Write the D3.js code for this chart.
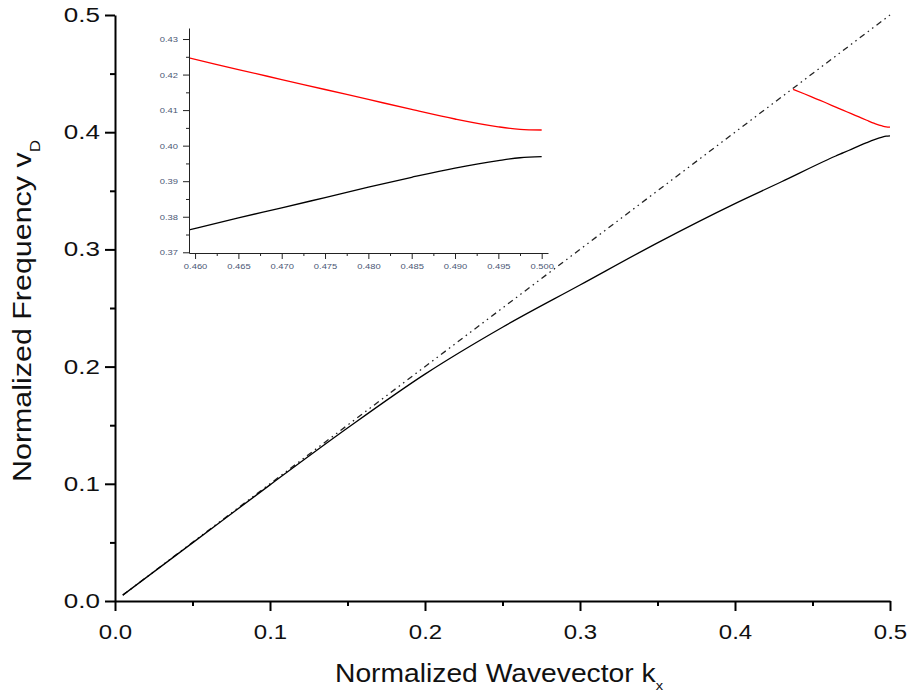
<!DOCTYPE html>
<html lang="en">
<head>
  <meta charset="UTF-8">
  <title>Normalized dispersion</title>
  <style>
    body  { margin: 0; background: #fff; font-family: "Liberation Sans", Arial, sans-serif; }
    svg   { display: block; }
    .axis path, .axis line { stroke: #000; }
    .main-axis path { stroke-width: 2px; }
    .main-axis line { stroke-width: 2px; }
    .main-axis text { font-size: 20px; fill: #111; }
    .inset-axis path, .inset-axis line { stroke: #222; stroke-width: 1px; }
    .inset-axis text { font-size: 8px; fill: #4b5775; }
    .curve { fill: none; stroke-width: 1.3px; }
  </style>
</head>
<body>
  <svg id="chart" width="911" height="696"></svg>

  <script src="https://d3js.org/d3.v7.min.js"></script>
  <script>
    /* ---------- data ---------- */
    const lowerK = [0.005, 0.05, 0.1, 0.15, 0.2, 0.25, 0.3, 0.35, 0.4, 0.43, 0.4593, 0.465, 0.47, 0.475, 0.48, 0.485, 0.49, 0.495, 0.4975, 0.5];
    const lowerV = [0.005, 0.0496, 0.0991, 0.1476, 0.1936, 0.2336, 0.2696, 0.3056, 0.3391, 0.3577, 0.3763, 0.3797, 0.3825, 0.3854, 0.3883, 0.3911, 0.3937, 0.3958, 0.3966, 0.3969];

    const upperK = [0.4375, 0.445, 0.452, 0.4593, 0.465, 0.47, 0.475, 0.48, 0.485, 0.49, 0.495, 0.4975, 0.5];
    const upperV = [0.4366, 0.4326, 0.4287, 0.4247, 0.4214, 0.4186, 0.4158, 0.4130, 0.4102, 0.4075, 0.4053, 0.4046, 0.4044];

    const lightK = [0.005, 0.5];
    const lightV = [0.005, 0.5];

    const mainTicks      = [0, 0.1, 0.2, 0.3, 0.4, 0.5];
    const mainMinorTicks = [0.05, 0.15, 0.25, 0.35, 0.45];
    const insetXTicks    = [0.460, 0.465, 0.470, 0.475, 0.480, 0.485, 0.490, 0.495, 0.500];
    const insetXMinor    = [0.4625, 0.4675, 0.4725, 0.4775, 0.4825, 0.4875, 0.4925, 0.4975];
    const insetYTicks    = [0.37, 0.38, 0.39, 0.40, 0.41, 0.42, 0.43];
    const insetYMinor    = [0.375, 0.385, 0.395, 0.405, 0.415, 0.425];

    const zip = (k, v) => k.map((d, i) => ({ k: d, v: v[i] }));
    const lower = zip(lowerK, lowerV),
          upper = zip(upperK, upperV),
          light = zip(lightK, lightV);

    const svg = d3.select('#chart');

    // stretch text a bit horizontally, the original glyphs are wider than Arial
    function stretch(sel, f) {
      sel.each(function () {
        const len = this.getComputedTextLength();
        d3.select(this).attr('textLength', len * f).attr('lengthAdjust', 'spacingAndGlyphs');
      });
    }

    /* ---------- main plot ---------- */
    const x = d3.scaleLinear().domain([0, 0.5]).range([115, 890]);
    const y = d3.scaleLinear().domain([0, 0.5]).range([601, 15]);

    const gx = svg.append('g').attr('class', 'axis main-axis')
        .attr('transform', `translate(0,${y(0)})`)
        .call(d3.axisBottom(x).tickValues(mainTicks).tickSize(10).tickSizeOuter(0)
              .tickPadding(14).tickFormat(d3.format('.1f')));
    svg.append('g').attr('class', 'axis main-axis')
        .attr('transform', `translate(0,${y(0)})`)
        .call(d3.axisBottom(x).tickValues(mainMinorTicks).tickSize(5).tickFormat(''))
        .select('.domain').remove();

    const gy = svg.append('g').attr('class', 'axis main-axis')
        .attr('transform', `translate(${x(0)},0)`)
        .call(d3.axisLeft(y).tickValues(mainTicks).tickSize(10).tickSizeOuter(0)
              .tickPadding(5).tickFormat(d3.format('.1f')));
    svg.append('g').attr('class', 'axis main-axis')
        .attr('transform', `translate(${x(0)},0)`)
        .call(d3.axisLeft(y).tickValues(mainMinorTicks).tickSize(5).tickFormat(''))
        .select('.domain').remove();

    stretch(gx.selectAll('text'), 1.2);
    stretch(gy.selectAll('text'), 1.3);

    const line = d3.line().x(d => x(d.k)).y(d => y(d.v)).curve(d3.curveMonotoneX);

    svg.append('path').datum(light)
        .attr('class', 'curve')
        .attr('stroke', '#222').attr('stroke-width', 1)
        .attr('stroke-dasharray', '6,4,1.5,4,1.5,4')
        .attr('d', d3.line().x(d => x(d.k)).y(d => y(d.v)));
    svg.append('path').datum(lower).attr('class', 'curve').attr('stroke', '#000').attr('d', line);
    svg.append('path').datum(upper).attr('class', 'curve').attr('stroke', '#ff0000').attr('d', line);

    // axis titles
    const xt = svg.append('text')
        .attr('x', 499).attr('y', 682).attr('text-anchor', 'middle')
        .attr('font-size', 25).attr('fill', '#111');
    xt.append('tspan').text('Normalized Wavevector k');
    xt.append('tspan').attr('dy', 8).attr('font-size', 13).text('x');
    xt.attr('textLength', 328).attr('lengthAdjust', 'spacingAndGlyphs');

    const yt = svg.append('text')
        .attr('transform', 'translate(31,311) rotate(-90)')
        .attr('text-anchor', 'middle')
        .attr('font-size', 25).attr('fill', '#111');
    yt.append('tspan').text('Normalized Frequency v');
    yt.append('tspan').attr('dy', 9).attr('font-size', 14).text('D');
    yt.attr('textLength', 342).attr('lengthAdjust', 'spacingAndGlyphs');

    /* ---------- inset ---------- */
    const xi = d3.scaleLinear().domain([0.4593, 0.50073]).range([189, 548]);
    const yi = d3.scaleLinear().domain([0.3698, 0.4331]).range([253, 28]);

    svg.append('defs').append('clipPath').attr('id', 'insetClip')
      .append('rect')
        .attr('x', xi.range()[0]).attr('y', yi.range()[1])
        .attr('width', xi.range()[1] - xi.range()[0])
        .attr('height', yi.range()[0] - yi.range()[1]);

    const lineI = d3.line().x(d => xi(d.k)).y(d => yi(d.v)).curve(d3.curveMonotoneX);
    const gi = svg.append('g').attr('clip-path', 'url(#insetClip)');
    gi.append('path').datum(upper).attr('class', 'curve').attr('stroke', '#ff0000').attr('stroke-width', 1.2).attr('d', lineI);
    gi.append('path').datum(lower).attr('class', 'curve').attr('stroke', '#000').attr('stroke-width', 1.2).attr('d', lineI);

    const gix = svg.append('g').attr('class', 'axis inset-axis')
        .attr('transform', `translate(0,${yi.range()[0]})`)
        .call(d3.axisBottom(xi).tickValues(insetXTicks).tickSize(6).tickSizeOuter(0)
              .tickPadding(4).tickFormat(d3.format('.3f')));
    svg.append('g').attr('class', 'axis inset-axis')
        .attr('transform', `translate(0,${yi.range()[0]})`)
        .call(d3.axisBottom(xi).tickValues(insetXMinor).tickSize(3).tickFormat(''))
        .select('.domain').remove();

    const giy = svg.append('g').attr('class', 'axis inset-axis')
        .attr('transform', `translate(${xi.range()[0]},0)`)
        .call(d3.axisLeft(yi).tickValues(insetYTicks).tickSize(6).tickSizeOuter(0)
              .tickPadding(5).tickFormat(d3.format('.2f')));
    svg.append('g').attr('class', 'axis inset-axis')
        .attr('transform', `translate(${xi.range()[0]},0)`)
        .call(d3.axisLeft(yi).tickValues(insetYMinor).tickSize(3).tickFormat(''))
        .select('.domain').remove();

    stretch(gix.selectAll('text'), 1.17);
    stretch(giy.selectAll('text'), 1.17);
  </script>
</body>
</html>
